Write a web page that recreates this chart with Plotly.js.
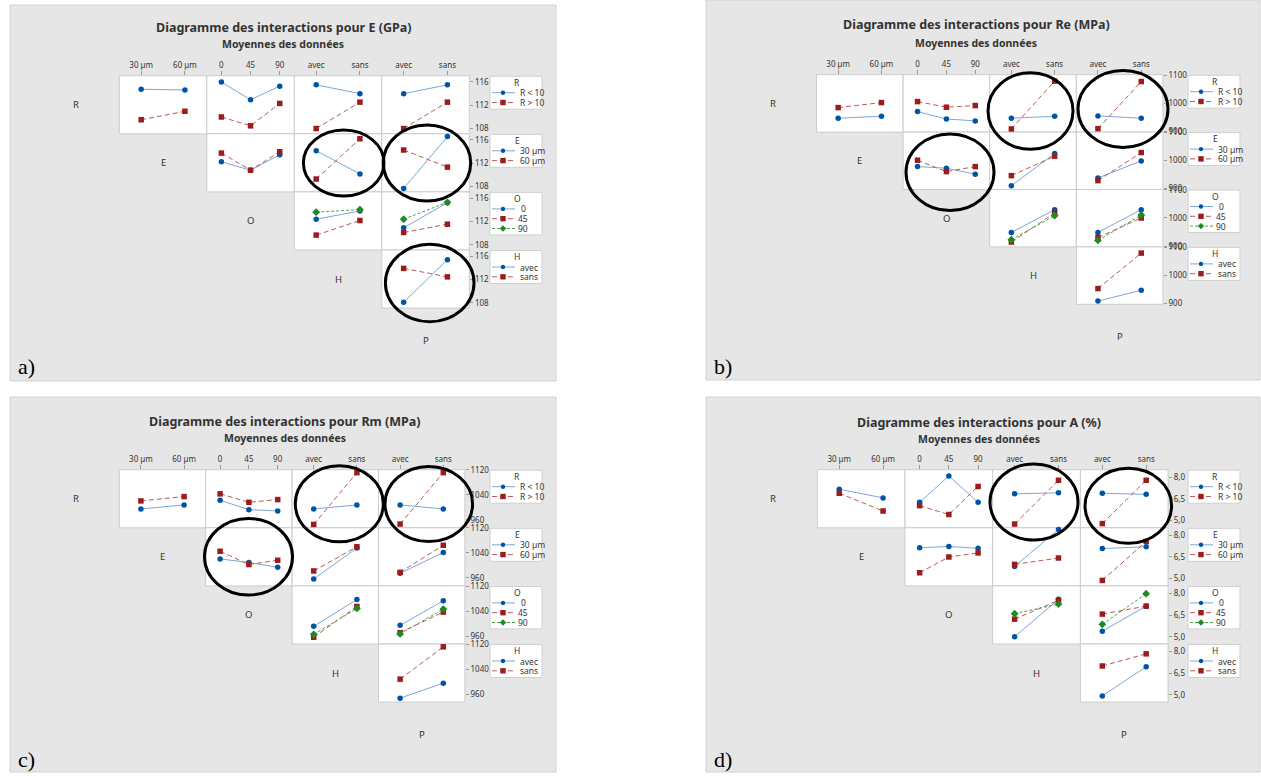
<!DOCTYPE html>
<html>
<head>
<meta charset="utf-8">
<script src="https://cdn.plot.ly/plotly-3.0.1.min.js"></script>
<style>html,body{margin:0;padding:0;background:#fff;}#chart{width:1261px;height:776px;}</style>
</head>
<body>
<div id="chart"></div>
<script>
// ---------------- factor levels (tick / legend labels) ----------------
const levelsR = ['R < 10', 'R > 10'];
const levelsE = ['30 µm', '60 µm'];
const levelsO = ['0', '45', '90'];
const levelsH = ['avec', 'sans'];
const levelsP = ['avec', 'sans'];

const subtitle = 'Moyennes des données';

// ---------------- panel a : E (GPa) ----------------
const titleA = 'Diagramme des interactions pour E (GPa)';
const ticksA = [108, 112, 116];
const tickTextA = ['108', '112', '116'];
const a_R_by_E = [[114.73, 114.60], [109.51, 110.96]];
const a_R_by_O = [[115.95, 112.94, 115.25], [109.98, 108.47, 112.30]];
const a_R_by_H = [[115.48, 113.98], [108.00, 112.52]];
const a_R_by_P = [[113.98, 115.48], [108.00, 112.52]];
const a_E_by_O = [[112.25, 110.82, 113.46], [113.75, 110.82, 113.98]];
const a_E_by_H = [[114.15, 110.18], [109.30, 116.20]];
const a_E_by_P = [[107.70, 116.57], [114.27, 111.34]];
const a_O_by_H = [[112.37, 113.79], [109.65, 112.15], [113.57, 114.03]];
const a_O_by_P = [[110.90, 115.20], [110.10, 111.52], [112.37, 115.27]];
const a_H_by_P = [[108.10, 115.40], [113.90, 112.45]];

// ---------------- panel b : Re (MPa) ----------------
const titleB = 'Diagramme des interactions pour Re (MPa)';
const ticksB = [900, 1000, 1100];
const tickTextB = ['900', '1000', '1100'];
const b_R_by_E = [[946.4, 953.6], [984.3, 1002.1]];
const b_R_by_O = [[970.0, 943.9, 936.8], [1005.7, 985.7, 991.4]];
const b_R_by_H = [[946.4, 953.6], [908.2, 1078.6]];
const b_R_by_P = [[954.6, 946.4], [909.3, 1077.1]];
const b_E_by_O = [[978.6, 972.9, 951.4], [1001.4, 960.7, 978.6]];
const b_E_by_H = [[910.7, 1025.0], [946.4, 1015.7]];
const b_E_by_P = [[938.2, 998.9], [928.6, 1028.6]];
const b_O_by_H = [[948.6, 1029.6], [914.3, 1017.9], [922.5, 1008.2]];
const b_O_by_P = [[948.6, 1029.6], [930.7, 1000.0], [920.0, 1010.7]];
const b_H_by_P = [[908.7, 946.9], [953.1, 1079.4]];

// ---------------- panel c : Rm (MPa) ----------------
const titleC = 'Diagramme des interactions pour Rm (MPa)';
const ticksC = [960, 1040, 1120];
const tickTextC = ['960', '1040', '1120'];
const c_R_by_E = [[994.8, 1007.7], [1020.6, 1034.5]];
const c_R_by_O = [[1022.6, 992.6, 988.4], [1043.2, 1016.1, 1024.8]];
const c_R_by_H = [[994.8, 1007.7], [945.2, 1111.0]];
const c_R_by_P = [[1007.7, 994.8], [946.5, 1111.0]];
const c_E_by_O = [[1020.8, 1009.3, 994.2], [1045.4, 1002.9, 1016.6]];
const c_E_by_H = [[956.8, 1056.0], [982.4, 1060.0]];
const c_E_by_P = [[975.0, 1041.3], [978.0, 1064.6]];
const c_O_by_H = [[991.0, 1076.9], [956.0, 1054.6], [965.6, 1048.3]];
const c_O_by_P = [[994.2, 1072.8], [971.0, 1036.8], [966.8, 1046.4]];
const c_H_by_P = [[947.2, 995.2], [1008.0, 1111.4]];

// ---------------- panel d : A (%) ----------------
const titleD = 'Diagramme des interactions pour A (%)';
const ticksD = [5, 6.5, 8];
const tickTextD = ['5,0', '6,5', '8,0'];
const d_R_by_E = [[7.17, 6.57], [6.89, 5.66]];
const d_R_by_O = [[6.26, 8.09, 6.26], [6.03, 5.42, 7.36]];
const d_R_by_H = [[6.85, 6.92], [4.76, 7.79]];
const d_R_by_P = [[6.89, 6.82], [4.79, 7.79]];
const d_E_by_O = [[7.14, 7.23, 7.10], [5.41, 6.50, 6.78]];
const d_E_by_H = [[5.85, 8.41], [5.99, 6.43]];
const d_E_by_P = [[7.08, 7.21], [4.88, 7.58]];
const d_O_by_H = [[5.00, 7.59], [6.22, 7.52], [6.60, 7.26]];
const d_O_by_P = [[5.39, 7.12], [6.57, 7.12], [5.86, 7.98]];
const d_H_by_P = [[4.93, 6.95], [7.00, 7.84]];

// ---------------- layout helpers ----------------
const W = 1261, H = 776;
const fx = v => v / W;
const fy = v => 1 - v / H;
const FONT = 'Noto Sans, Open Sans, sans-serif';
const TXT = '#333333';

const rowFactors = ['R', 'E', 'O', 'H'];
const colFactors = ['E', 'O', 'H', 'P'];
const rowLabelFactors = ['R', 'E', 'O', 'H', 'P'];
const levelsOf = {R: levelsR, E: levelsE, O: levelsO, H: levelsH, P: levelsP};

const seriesStyle = [
  {marker: {color: '#0054a6', symbol: 'circle', size: 5.5}, line: {color: '#7fa6d8', width: 1, dash: 'solid'}},
  {marker: {color: '#9c1c1c', symbol: 'square', size: 5.5}, line: {color: '#b85c59', width: 1, dash: '5px,3px'}},
  {marker: {color: '#1d8a24', symbol: 'diamond', size: 6}, line: {color: '#49a34e', width: 1, dash: '3px,2px'}}
];

const panels = [
  {title: titleA, ticks: ticksA, tickText: tickTextA, range: [107.1, 117.05],
   data: {R: [a_R_by_E, a_R_by_O, a_R_by_H, a_R_by_P], E: [null, a_E_by_O, a_E_by_H, a_E_by_P],
          O: [null, null, a_O_by_H, a_O_by_P], H: [null, null, null, a_H_by_P]},
   box: [10, 5, 556, 381], x0: 119.3, y0: 75.7, cw: 87.5, ch: 58.1, tx: 283, ty: 28, sy: 44,
   legX: 490, label: 'a)', lx: 26, ly: 366,
   ellipses: [[343.7, 163, 40.3, 33], [427, 163, 43.7, 38], [429.7, 283, 44.3, 38.7]]},
  {title: titleB, ticks: ticksB, tickText: tickTextB, range: [897, 1101.5],
   data: {R: [b_R_by_E, b_R_by_O, b_R_by_H, b_R_by_P], E: [null, b_E_by_O, b_E_by_H, b_E_by_P],
          O: [null, null, b_O_by_H, b_O_by_P], H: [null, null, null, b_H_by_P]},
   box: [706, 0, 1260, 380], x0: 816.5, y0: 74.7, cw: 86.6, ch: 57.4, tx: 976, ty: 25, sy: 43,
   legX: 1188, label: 'b)', lx: 723, ly: 366,
   ellipses: [[1030.5, 111, 42.5, 38.3], [1123, 109, 45, 38.5], [950, 172.3, 44, 38.3]]},
  {title: titleC, ticks: ticksC, tickText: tickTextC, range: [934.5, 1120.5],
   data: {R: [c_R_by_E, c_R_by_O, c_R_by_H, c_R_by_P], E: [null, c_E_by_O, c_E_by_H, c_E_by_P],
          O: [null, null, c_O_by_H, c_O_by_P], H: [null, null, null, c_H_by_P]},
   box: [10, 397, 556, 772], x0: 119.3, y0: 469.7, cw: 86.4, ch: 58.1, tx: 285, ty: 422, sy: 438,
   legX: 490, label: 'c)', lx: 26, ly: 759,
   ellipses: [[339.3, 503.8, 44, 38], [428.8, 504, 43.8, 37.5], [248.5, 556.7, 44, 38.3]]},
  {title: titleD, ticks: ticksD, tickText: tickTextD, range: [4.5, 8.52],
   data: {R: [d_R_by_E, d_R_by_O, d_R_by_H, d_R_by_P], E: [null, d_E_by_O, d_E_by_H, d_E_by_P],
          O: [null, null, d_O_by_H, d_O_by_P], H: [null, null, null, d_H_by_P]},
   box: [706, 397, 1260, 772], x0: 817.3, y0: 469.7, cw: 87.7, ch: 58.1, tx: 979, ty: 423, sy: 439,
   legX: 1188, label: 'd)', lx: 723, ly: 759,
   ellipses: [[1034, 502, 44, 38], [1128.3, 505.8, 43.3, 37.5]]}
];

const traces = [];
const layout = {
  width: W, height: H, margin: {l: 0, r: 0, t: 0, b: 0},
  paper_bgcolor: '#ffffff', plot_bgcolor: 'rgba(0,0,0,0)',
  showlegend: false, hovermode: false,
  font: {family: FONT, color: TXT},
  shapes: [], annotations: []
};

function ann(x, y, text, size, opts) {
  layout.annotations.push(Object.assign({
    xref: 'paper', yref: 'paper', x: fx(x), y: fy(y), text: text, showarrow: false,
    xanchor: 'center', yanchor: 'middle', font: {family: FONT, size: size, color: TXT}
  }, opts || {}));
}
function rect(x0, y0, x1, y1, fill, lineColor, lw) {
  layout.shapes.push({type: 'rect', xref: 'paper', yref: 'paper', x0: fx(x0), x1: fx(x1), y0: fy(y1), y1: fy(y0),
    fillcolor: fill, line: {color: lineColor, width: lw}, layer: 'below'});
}

let n = 0;
panels.forEach(p => {
  const [bx0, by0, bx1, by1] = p.box;
  rect(bx0, by0, bx1, by1, '#e6e6e6', '#d2d2d2', 1);

  // titles
  ann(p.tx, p.ty, '<b>' + p.title + '</b>', 12.5);
  ann(p.tx, p.sy, '<b>' + subtitle + '</b>', 10.5);
  // panel letter
  ann(p.lx, p.ly, p.label, 22, {font: {family: 'Liberation Serif, Times New Roman, serif', size: 22, color: '#000'}});

  rowFactors.forEach((rf, i) => {
    colFactors.forEach((cf, j) => {
      if (j < i) return;
      n++;
      const sfx = n === 1 ? '' : String(n);
      const cx0 = p.x0 + j * p.cw, cx1 = cx0 + p.cw;
      const cy0 = p.y0 + i * p.ch, cy1 = cy0 + p.ch;
      rect(cx0, cy0, cx1, cy1, '#ffffff', '#cccccc', 1);
      const lv = levelsOf[cf];
      layout['xaxis' + sfx] = {
        domain: [fx(cx0), fx(cx1)], anchor: 'y' + sfx, type: 'category',
        range: [-0.5, lv.length - 0.5], side: 'top',
        showticklabels: i === 0, ticks: i === 0 ? 'outside' : '', ticklen: 4, tickcolor: '#9a9a9a',
        tickfont: {family: FONT, size: 8, color: TXT},
        showgrid: false, zeroline: false, showline: false, fixedrange: true
      };
      layout['yaxis' + sfx] = {
        domain: [fy(cy1), fy(cy0)], anchor: 'x' + sfx, range: p.range, side: 'right',
        tickmode: 'array', tickvals: p.ticks, ticktext: p.tickText,
        showticklabels: j === 3, ticks: j === 3 ? 'outside' : '', ticklen: 3, tickcolor: '#9a9a9a',
        tickfont: {family: FONT, size: 8, color: TXT},
        showgrid: false, zeroline: false, showline: false, fixedrange: true
      };
      p.data[rf][j].forEach((vals, k) => {
        traces.push({
          type: 'scatter', mode: 'lines+markers', x: lv, y: vals,
          xaxis: 'x' + sfx, yaxis: 'y' + sfx, cliponaxis: false,
          marker: seriesStyle[k].marker, line: seriesStyle[k].line
        });
      });
    });

    // legend box for this row factor
    const lvR = levelsOf[rf];
    const top = p.y0 + i * p.ch + 0.5;
    const lw = 52;
    const hgt = lvR.length === 3 ? 42.5 : 33;
    rect(p.legX, top, p.legX + lw, top + hgt, '#ffffff', '#d0d0d0', 1);
    ann(p.legX + lw / 2 + 1, top + 6, rf, 8.5);
    lvR.forEach((name, k) => {
      const yy = top + 16.5 + k * 9.8;
      const st = seriesStyle[k];
      layout.shapes.push({type: 'line', xref: 'paper', yref: 'paper', x0: fx(p.legX + 2), x1: fx(p.legX + 25),
        y0: fy(yy), y1: fy(yy), line: {color: st.line.color, width: 1, dash: st.line.dash}, layer: 'above'});
      const mx = p.legX + 13;
      if (k === 0) {
        layout.shapes.push({type: 'circle', xref: 'paper', yref: 'paper', x0: fx(mx - 2.2), x1: fx(mx + 2.2),
          y0: fy(yy + 2.2), y1: fy(yy - 2.2), fillcolor: st.marker.color, line: {width: 0}, layer: 'above'});
      } else if (k === 1) {
        layout.shapes.push({type: 'rect', xref: 'paper', yref: 'paper', x0: fx(mx - 2.7), x1: fx(mx + 2.7),
          y0: fy(yy + 2.7), y1: fy(yy - 2.7), fillcolor: st.marker.color, line: {width: 0}, layer: 'above'});
      } else {
        const d = 3.2;
        layout.shapes.push({type: 'path', xref: 'paper', yref: 'paper',
          path: 'M' + fx(mx) + ',' + fy(yy - d) + ' L' + fx(mx + d) + ',' + fy(yy) + ' L' + fx(mx) + ',' + fy(yy + d) + ' L' + fx(mx - d) + ',' + fy(yy) + ' Z',
          fillcolor: st.marker.color, line: {width: 0}, layer: 'above'});
      }
      if (rf === 'O') {
        ann(p.legX + 33, yy, name, 8.5);
      } else {
        ann(p.legX + 28, yy, name, 8.5, {xanchor: 'left'});
      }
    });
  });

  // factor labels on the diagonal
  rowLabelFactors.forEach((f, k) => {
    const x = p.x0 + (k - 0.5) * p.cw;
    const y = p.y0 + (k + 0.5) * p.ch + (k === 4 ? 3 : 0);
    ann(x, y, f, 9.5);
  });

  // highlight ellipses
  p.ellipses.forEach(e => {
    const [cx, cy, rx, ry] = e;
    layout.shapes.push({type: 'circle', xref: 'paper', yref: 'paper',
      x0: fx(cx - rx), x1: fx(cx + rx), y0: fy(cy + ry), y1: fy(cy - ry),
      line: {color: '#000000', width: 3}, fillcolor: 'rgba(0,0,0,0)', layer: 'above'});
  });
});

Plotly.newPlot('chart', traces, layout, {staticPlot: true, displayModeBar: false});
</script>
</body>
</html>
